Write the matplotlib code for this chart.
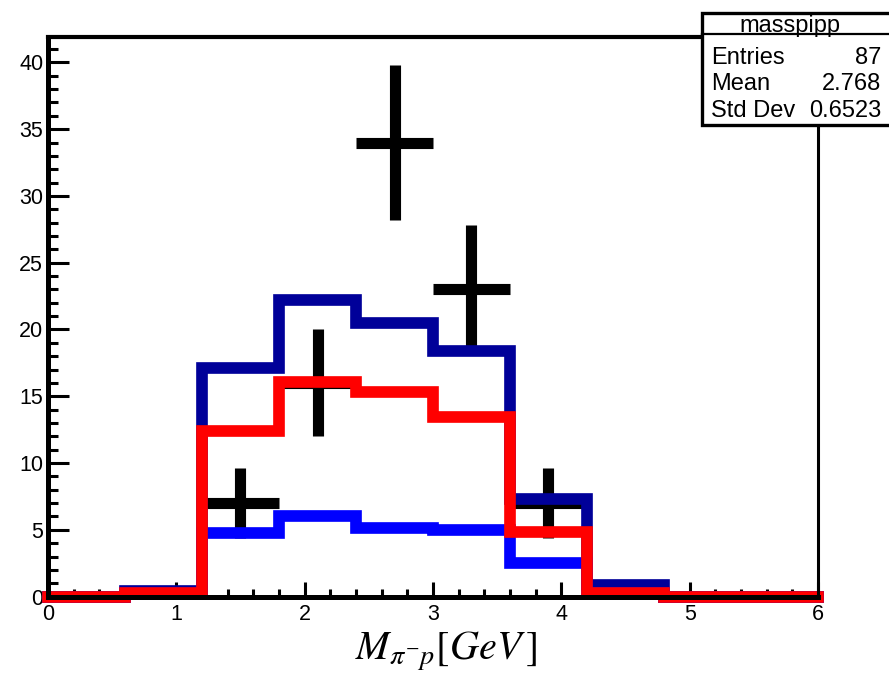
import matplotlib
matplotlib.use("Agg")
import matplotlib.pyplot as plt
import numpy as np
from matplotlib.patches import Rectangle
from matplotlib.lines import Line2D
from matplotlib.ticker import MultipleLocator

# histogram bins (GeV)
bin_edges = [0.0, 0.6, 1.2, 1.8, 2.4, 3.0, 3.6, 4.2, 4.8, 5.4, 6.0]

# three model histograms
navy_vals = [0.0, 0.45, 17.15, 22.2, 20.5, 18.4, 7.3, 0.85, 0.0, 0.0]
blue_vals = [0.0, 0.3, 4.75, 6.0, 5.15, 4.95, 2.5, 0.3, 0.0, 0.0]
red_vals = [0.0, 0.25, 12.4, 16.1, 15.35, 13.45, 4.8, 0.3, 0.0, 0.0]

# data points
data_x = [1.5, 2.1, 2.7, 3.3, 3.9]
data_counts = [7, 16, 34, 23, 7]

stats_title = "masspipp"
stats_rows = [("Entries", "87"), ("Mean", "2.768"), ("Std Dev", "0.6523")]

plt.rcParams['font.family'] = ['Liberation Sans', 'DejaVu Sans']
plt.rcParams['mathtext.fontset'] = 'stix'

W, H = 889, 678
fig = plt.figure(figsize=(W / 100, H / 100), dpi=100)
ax = fig.add_axes([48 / W, 1 - 596.6 / H, 770 / W, (596.6 - 37) / H])

ax.set_xlim(0, 6)
ax.set_ylim(0, 41.9)

# data crosses go underneath the histograms
err = np.sqrt(data_counts)
ax.errorbar(data_x, data_counts, xerr=0.3, yerr=err, fmt='none',
            ecolor='black', elinewidth=8, capsize=0, zorder=1)

for vals, col, z in [(navy_vals, '#000099', 2), (blue_vals, '#0000ff', 3),
                     (red_vals, '#ff0000', 4)]:
    st = ax.stairs(vals, bin_edges, baseline=None, color=col, linewidth=8.4,
                   zorder=z, clip_on=False)
    st.set_joinstyle('miter')
    st.set_capstyle('projecting')

# frame, ROOT style
for s in ['top', 'right']:
    ax.spines[s].set_visible(False)
ax.spines['left'].set_linewidth(3.6)
ax.spines['bottom'].set_linewidth(3.6)
ax.spines['left'].set_zorder(5)
ax.spines['bottom'].set_zorder(5)
ax.add_line(Line2D([0, (702 - 48) / 770], [1, 1], transform=ax.transAxes,
                   color='black', lw=3.0, clip_on=False, zorder=5))
ax.add_line(Line2D([1, 1], [0, (596.6 - 125) / (596.6 - 37)], transform=ax.transAxes,
                   color='black', lw=2.2, clip_on=False, zorder=5))

ax.xaxis.set_major_locator(MultipleLocator(1))
ax.xaxis.set_minor_locator(MultipleLocator(0.2))
ax.yaxis.set_major_locator(MultipleLocator(5))
ax.yaxis.set_minor_locator(MultipleLocator(1))
ax.tick_params(axis='both', which='both', direction='in', top=False, right=False,
               labelsize=15.5, width=2.2)
ax.tick_params(axis='y', which='major', length=15, pad=3.5)
ax.tick_params(axis='y', which='minor', length=7)
ax.tick_params(axis='x', which='major', length=11, pad=5)
ax.tick_params(axis='x', which='minor', length=5.5)

fig.text(446 / W, 1 - 660 / H, r'$M_{\pi^{-}p}[GeV\,]$', fontsize=29,
         ha='center', va='baseline')

# stats box
box_l, box_t, box_b, box_div = 702 / W, 1 - 13 / H, 1 - 125 / H, 1 - 34 / H
fig.patches.append(Rectangle((box_l, box_b), 1.05 - box_l, box_t - box_b,
                             transform=fig.transFigure, facecolor='white',
                             edgecolor='black', lw=2.4, zorder=10))
fig.add_artist(Line2D([box_l, 1.0], [box_div, box_div], transform=fig.transFigure,
                      color='black', lw=1.6, zorder=11))
fig.text(790 / W, 1 - 32 / H, stats_title, fontsize=17, ha='center', va='baseline',
         zorder=12)
for i, (lab, val) in enumerate(stats_rows):
    yb = 1 - (64 + 26.5 * i) / H
    fig.text(711 / W, yb, lab, fontsize=17, ha='left', va='baseline', zorder=12)
    fig.text(881 / W, yb, val, fontsize=17, ha='right', va='baseline', zorder=12)

fig.savefig('out.png', dpi=100)
